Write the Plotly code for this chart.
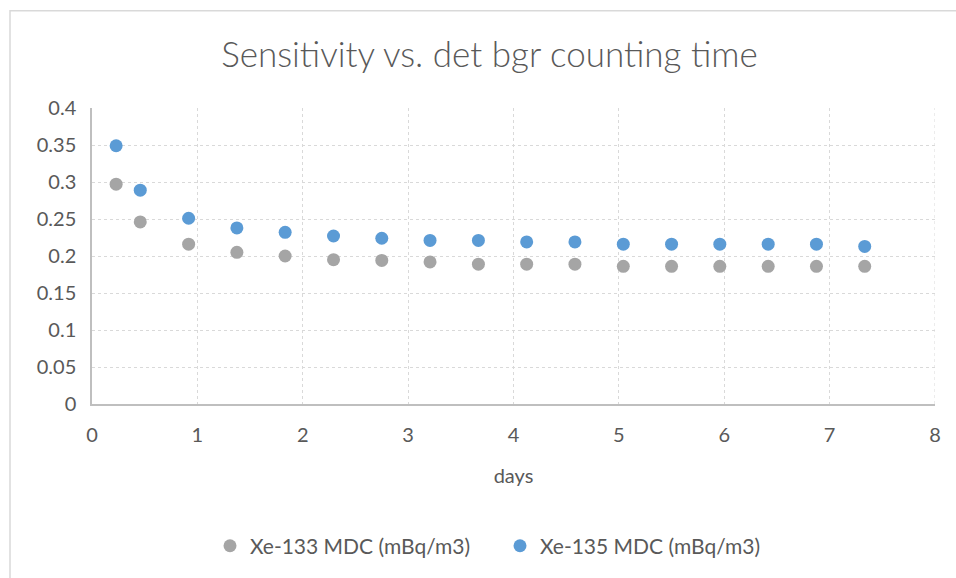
import plotly.graph_objects as go

days = [0.229, 0.458, 0.917, 1.375, 1.833, 2.292, 2.75, 3.208, 3.667, 4.125,
        4.583, 5.042, 5.5, 5.958, 6.417, 6.875, 7.333]
xe133 = [0.297, 0.246, 0.216, 0.205, 0.200, 0.195, 0.194, 0.192, 0.189, 0.189,
         0.189, 0.186, 0.186, 0.186, 0.186, 0.186, 0.186]
xe135 = [0.349, 0.289, 0.251, 0.238, 0.232, 0.227, 0.224, 0.221, 0.221, 0.219,
         0.219, 0.216, 0.216, 0.216, 0.216, 0.216, 0.213]
x_ticks = [0, 1, 2, 3, 4, 5, 6, 7, 8]
y_ticks = [0, 0.05, 0.1, 0.15, 0.2, 0.25, 0.3, 0.35, 0.4]
y_labels = ["0", "0.05", "0.1", "0.15", "0.2", "0.25", "0.3", "0.35", "0.4"]

FONT = "Lato"
TXT = "#595959"

fig = go.Figure()
fig.add_trace(go.Scatter(x=days, y=xe133, mode="markers", name="Xe-133 MDC (mBq/m3)",
                         marker=dict(color="#A5A5A5", size=13)))
fig.add_trace(go.Scatter(x=days, y=xe135, mode="markers", name="Xe-135 MDC (mBq/m3)",
                         marker=dict(color="#5B9BD5", size=13)))

fig.update_layout(
    width=956, height=578,
    margin=dict(l=92, r=21, t=108, b=172),
    paper_bgcolor="white", plot_bgcolor="white",
    font=dict(family=FONT, color=TXT, size=20),
    title=dict(text="Sensitivity vs. det bgr counting time", x=0.512, xanchor="center",
               y=1 - 55 / 578, yanchor="middle",
               font=dict(family=FONT, size=35, color=TXT, weight=300)),
    showlegend=True,
    legend=dict(orientation="h", x=(210 - 92) / 843, xanchor="left", y=-0.48, yanchor="middle",
                font=dict(family=FONT, size=21, color=TXT), itemwidth=30,
                entrywidth=245, entrywidthmode="pixels"),
    xaxis=dict(range=[0, 8], tickvals=x_ticks, ticktext=[str(v) for v in x_ticks],
               showgrid=True, gridcolor="#D9D9D9", griddash="dot", gridwidth=1,
               showline=True, linecolor="#BFBFBF", linewidth=1.5, zeroline=False,
               ticks="", tickfont=dict(size=20, color=TXT), ticklabelstandoff=12,
               title=dict(text="days", font=dict(size=20, color=TXT), standoff=24),
               mirror=False),
    yaxis=dict(range=[0, 0.4], tickvals=y_ticks, ticktext=y_labels,
               showgrid=True, gridcolor="#D9D9D9", griddash="dot", gridwidth=1,
               showline=True, linecolor="#BFBFBF", linewidth=1.5, zeroline=False,
               ticks="", tickfont=dict(size=20, color=TXT), ticklabelstandoff=10),
)

# right-most vertical gridline at x=8
fig.add_shape(type="line", xref="x", yref="paper", x0=8, x1=8, y0=0, y1=1,
              line=dict(color="#D9D9D9", width=1, dash="dot"))
# chart frame (top and left edges visible)
pw, ph = 956 - 92 - 21, 578 - 108 - 172
fig.add_shape(type="rect", xref="paper", yref="paper",
              x0=(10 - 92) / pw, x1=(1000 - 92) / pw,
              y0=(172 - 620) / ph, y1=(578 - 10 - 172) / ph,
              line=dict(color="#D9D9D9", width=1.5), fillcolor="rgba(0,0,0,0)", layer="below")

fig.write_html("out.html")
